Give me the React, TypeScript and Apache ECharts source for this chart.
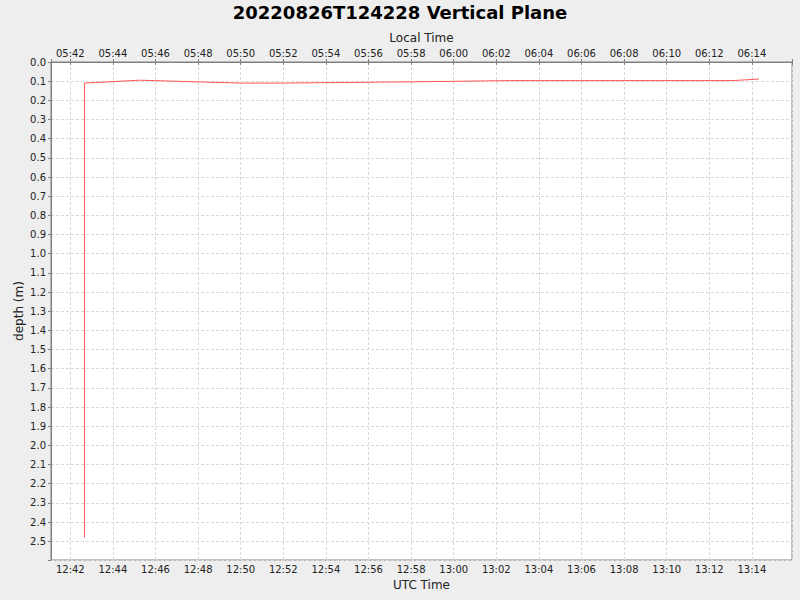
import React, { useEffect, useRef } from "react";
import * as echarts from "echarts";

// samples: UTC time of day and depth in metres
const sampleTimes = [
  "12:42:40",
  "12:42:40",
  "12:45:16",
  "12:50:00",
  "12:51:50",
  "12:54:40",
  "12:58:25",
  "13:02:40",
  "13:06:50",
  "13:13:06",
  "13:14:20",
];
const sampleDepths = [2.48, 0.11, 0.095, 0.11, 0.11, 0.107, 0.103, 0.097, 0.097, 0.097, 0.089];

const axisStart = "12:41:05.6";
const axisEnd = "13:15:53";
const depthMax = 2.598;
const localOffsetMin = -7 * 60;

const FONT = "DejaVu Sans";

// time string -> minutes since midnight
const toMin = (s: string) => {
  const [h, m, sec] = s.split(":").map(Number);
  return h * 60 + m + (sec || 0) / 60;
};

const fmtClock = (mins: number) => {
  const r = Math.round(mins);
  if (Math.abs(mins - r) > 1e-6 || r % 2 !== 0) return "";
  const t = ((r % 1440) + 1440) % 1440;
  const h = Math.floor(t / 60);
  const m = t % 60;
  return String(h).padStart(2, "0") + ":" + String(m).padStart(2, "0");
};

const App: React.FC = () => {
  const chartRef = useRef<HTMLDivElement>(null);

  useEffect(() => {
    const chart = echarts.init(chartRef.current, null, { renderer: "svg" });
    const seriesData = sampleTimes.map((t, i) => [toMin(t), sampleDepths[i]]);
    const xMin = toMin(axisStart);
    const xMax = toMin(axisEnd);

    const timeAxisBase = {
      type: "value",
      min: xMin,
      max: xMax,
      minInterval: 2,
      maxInterval: 2,
      nameLocation: "middle",
      nameMoveOverlap: false,
      nameTextStyle: { fontFamily: FONT, fontSize: 12, color: "#222" },
      axisLine: { show: true, lineStyle: { color: "#808080" } },
      axisTick: { show: true, length: 3, lineStyle: { color: "#808080" } },
    };

    chart.setOption({
      animation: false,
      backgroundColor: "#eeeeee",
      title: {
        text: "20220826T124228 Vertical Plane",
        left: "center",
        top: 3,
        padding: 0,
        textStyle: { fontFamily: FONT, fontSize: 18, fontWeight: "bold", color: "#000" },
      },
      grid: {
        left: 51,
        top: 62,
        right: 8,
        bottom: 40,
        show: true,
        backgroundColor: "#ffffff",
        borderColor: "#808080",
        borderWidth: 1,
      },
      xAxis: [
        {
          ...timeAxisBase,
          position: "bottom",
          name: "UTC Time",
          nameGap: 19,
          axisLabel: {
            fontFamily: FONT,
            fontSize: 10,
            color: "#222",
            margin: 4,
            formatter: (v: number) => fmtClock(v),
          },
          splitLine: { show: true, lineStyle: { color: "#d9d9d9", type: [3, 2] } },
        },
        {
          ...timeAxisBase,
          position: "top",
          name: "Local Time",
          nameGap: 18,
          axisLabel: {
            fontFamily: FONT,
            fontSize: 10,
            color: "#222",
            margin: 4,
            formatter: (v: number) => fmtClock(v + localOffsetMin),
          },
          splitLine: { show: false },
        },
      ],
      yAxis: {
        type: "value",
        inverse: true,
        min: 0,
        max: depthMax,
        interval: 0.1,
        name: "depth (m)",
        nameLocation: "middle",
        nameGap: 26,
        nameMoveOverlap: false,
        nameTextStyle: { fontFamily: FONT, fontSize: 12, color: "#222" },
        axisLine: { show: true, lineStyle: { color: "#808080" } },
        axisTick: { show: true, length: 3, lineStyle: { color: "#808080" } },
        axisLabel: {
          fontFamily: FONT,
          fontSize: 10,
          color: "#222",
          margin: 5,
          formatter: (v: number) => {
            const r = Math.round(v * 10);
            if (Math.abs(v * 10 - r) > 1e-6) return "";
            return (r / 10).toFixed(1);
          },
        },
        splitLine: { show: true, lineStyle: { color: "#d9d9d9", type: [3, 2] } },
      },
      series: [
        {
          type: "line",
          xAxisIndex: 0,
          data: seriesData,
          showSymbol: false,
          symbol: "none",
          lineStyle: { color: "#ff5555", width: 1 },
        },
      ],
    });

    return () => {
      chart.dispose();
    };
  }, []);

  return (
    <div
      ref={chartRef}
      style={{ position: "absolute", left: 0, top: 0, width: 800, height: 600 }}
    ></div>
  );
};

export default App;
